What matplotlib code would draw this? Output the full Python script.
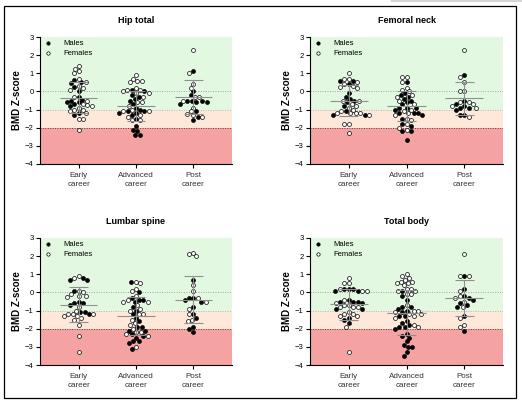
import matplotlib
matplotlib.use("Agg")
import matplotlib.pyplot as plt
from matplotlib.patches import Rectangle
from matplotlib.lines import Line2D
import numpy as np

plt.rcParams['font.family'] = ['Liberation Sans', 'DejaVu Sans']

groups = ["Early\ncareer", "Advanced\ncareer", "Post\ncareer"]
titles = ["Hip total", "Femoral neck", "Lumbar spine", "Total body"]

# BMD Z-scores: [early, advanced, post] per site
hip_males = [
    [0.62, 0.5, 0.44, 0.22, 0.0, -0.3, -0.45, -0.5, -0.6, -0.7, -0.8, -0.6, -1.2, -1.3],
    [0.1, 0.0, -0.2, -0.3, -0.4, -0.5, -0.7, -0.9, -1.1, -1.1, -1.2, -1.2, -1.3, -1.5,
     -1.9, -2.1, -2.2, -2.4, -2.4, -1.0],
    [1.1, 0.0, -0.2, -0.5, -0.5, -0.5, -0.6, -0.6, -0.7, -1.1, -1.4, -1.6],
]
hip_females = [
    [1.42, 1.25, 1.15, 1.0, 0.7, 0.5, 0.3, 0.2, 0.1, -0.3, -0.5, -0.7, -0.8, -0.9, -1.0,
     -1.0, -1.1, -1.2, -1.5, -1.5, -2.1, -0.75],
    [0.9, 0.7, 0.6, 0.6, 0.5, 0.2, 0.1, 0.0, 0.1, -0.1, -0.1, -0.3, -0.6, -0.6, -0.8,
     -1.0, -1.1, -1.1, -1.3, -1.4, -1.6, -1.6],
    [2.3, 1.0, 0.4, 0.2, -0.3, -0.3, -0.5, -0.9, -1.1, -1.25, -1.3, -1.4],
]
neck_males = [
    [0.6, 0.6, 0.4, -0.1, -0.3, -0.4, -0.5, -0.6, -0.8, -1.1, -1.3, -1.3],
    [0.5, -0.1, -0.2, -0.3, -0.4, -0.5, -0.6, -0.7, -0.9, -0.9, -0.9, -1.0, -1.2, -1.2,
     -1.2, -1.3, -1.5, -1.8, -1.9, -2.2, -2.2, -2.7],
    [0.9, -0.5, -0.7, -0.8, -0.9, -0.9, -1.0, -1.3, -1.3],
]
neck_females = [
    [1.0, 0.7, 0.7, 0.5, 0.4, 0.3, 0.25, 0.2, -0.5, -0.5, -0.7, -0.8, -0.9, -1.0, -1.1,
     -1.2, -1.2, -1.2, -1.2, -1.3, -1.8, -1.8, -2.3],
    [0.8, 0.8, 0.5, 0.2, 0.1, 0.0, -0.2, -0.3, -0.5, -0.7, -1.0, -1.1, -1.2, -1.3, -1.5,
     -1.6, -1.8, -2.0, -2.1],
    [2.3, 0.8, 0.5, 0.0, 0.0, -0.6, -0.6, -0.7, -0.8, -0.9, -1.4],
]
spine_males = [
    [0.7, 0.7, 0.8, 0.1, -0.5, -0.6, -0.6, -0.7, -1.1, -1.1, -1.2],
    [0.6, 0.0, -0.3, -0.4, -0.4, -0.5, -0.8, -1.0, -1.2, -1.4, -1.6, -1.9, -1.9, -2.1,
     -2.1, -2.3, -2.4, -2.5, -2.7, -2.7, -2.8, -3.1],
    [0.7, -0.3, -0.3, -0.4, -0.5, -0.8, -1.2, -1.4, -1.9, -2.0, -2.2],
]
spine_females = [
    [0.8, 0.9, 0.1, 0.0, -0.1, -0.2, -0.2, -0.25, -0.8, -1.0, -1.2, -1.2, -1.2, -1.3,
     -1.3, -1.4, -1.5, -1.8, -2.4, -3.3],
    [0.6, 0.5, 0.2, 0.1, -0.2, -0.4, -0.5, -0.5, -0.7, -0.9, -1.0, -1.2, -1.2, -1.5,
     -1.7, -1.8, -2.0, -2.2, -2.2, -2.3, -2.4, -3.0],
    [2.2, 2.1, 2.0, 0.4, 0.1, -0.3, -0.5, -0.9, -1.2, -1.5, -1.6],
]
body_males = [
    [0.2, 0.2, 0.2, 0.1, 0.1, -0.4, -0.5, -0.5, -0.5, -0.6, -0.9, -0.9, -1.4, -1.5, -1.7],
    [0.1, -0.2, -0.4, -0.8, -0.8, -0.9, -1.0, -1.1, -1.3, -1.3, -1.6, -1.7, -1.8, -1.9,
     -1.9, -2.0, -2.3, -2.4, -2.5, -2.7, -2.9, -3.0, -3.0, -3.3, -3.5],
    [0.9, 0.2, -0.2, -0.3, -0.4, -0.6, -0.7, -0.8, -1.3, -2.1],
]
body_females = [
    [0.8, 0.5, 0.5, 0.2, 0.1, 0.1, -0.4, -0.6, -0.7, -0.7, -0.8, -0.8, -0.8, -1.1, -1.2,
     -1.2, -1.3, -1.3, -1.9, -3.3],
    [1.0, 0.9, 0.8, 0.7, 0.6, 0.6, 0.5, 0.5, 0.4, 0.2, 0.2, 0.1, 0.1, -0.1, -0.1, -0.7,
     -1.0, -1.0, -1.1, -1.2, -1.2, -1.3, -1.4, -1.8, -1.9],
    [2.1, 0.9, 0.9, 0.1, -0.2, -0.3, -0.5, -0.8, -1.4, -1.8, -1.9],
]

# mean and SD bars as drawn
means = [
    [-0.35, -0.8, -0.3],
    [-0.5, -0.8, -0.38],
    [-0.68, -1.3, -0.4],
    [-0.65, -1.12, -0.32],
]
sds = [
    [0.85, 0.82, 0.95],
    [0.85, 0.82, 0.92],
    [0.96, 1.07, 1.3],
    [0.86, 1.23, 1.0],
]

males_all = [hip_males, neck_males, spine_males, body_males]
females_all = [hip_females, neck_females, spine_females, body_females]


def swarm(values, sx, sy, diam=4.6):
    # simple beeswarm in pixel space, returns x offsets in data units
    values = np.asarray(values, dtype=float)
    order = np.argsort(-values, kind="stable")
    placed = []
    offs = np.zeros(len(values))
    for i in order:
        y = values[i] * sy
        cands = [0.0]
        for px, py in placed:
            d = abs(py - y)
            if d < diam:
                w = np.sqrt(diam ** 2 - d ** 2)
                cands += [px - w, px + w]
        cands.sort(key=abs)
        for c in cands:
            if all((c - px) ** 2 + (y - py) ** 2 >= diam ** 2 - 1e-6 for px, py in placed):
                break
        placed.append((c, y))
        offs[i] = c / sx
    return offs


fig = plt.figure(figsize=(5.22, 4.05), dpi=100)
W, H = 522.0, 405.0
boxes = [(40, 37, 232, 164), (310, 37, 503, 164), (40, 238, 232, 365), (310, 238, 503, 365)]

bar_col = "#8f8f8f"
for k in range(4):
    x0, y0, x1, y1 = boxes[k]
    ax = fig.add_axes([x0 / W, 1 - y1 / H, (x1 - x0) / W, (y1 - y0) / H])
    ax.set_xlim(-0.67, 2.67)
    ax.set_ylim(-4, 3)

    ax.axhspan(-1, 3, color="#e3f8e1", zorder=0, lw=0)
    ax.axhspan(-2, -1, color="#fde8da", zorder=0, lw=0)
    ax.axhspan(-4, -2, color="#f4a2a2", zorder=0, lw=0)
    ax.axhline(0, color="#9aa89a", ls=(0, (1, 1.5)), lw=0.7, zorder=1)
    ax.axhline(-1, color="#b5b5b5", ls=(0, (1, 1.5)), lw=0.7, zorder=1)
    ax.axhline(-2, color="#6b3a3a", ls=(0, (1, 1.5)), lw=0.7, zorder=1)

    # pixel scales from the axes transform
    p0 = ax.transData.transform((0, 0))
    p1 = ax.transData.transform((1, 1))
    sx, sy = p1[0] - p0[0], p1[1] - p0[1]

    for g in range(3):
        m = males_all[k][g]
        f = females_all[k][g]
        # interleave sexes so ties do not sort males to the middle
        vals = []
        idx = []
        for j in range(max(len(m), len(f))):
            if j < len(f):
                vals.append(f[j]); idx.append(("f", j))
            if j < len(m):
                vals.append(m[j]); idx.append(("m", j))
        offs = swarm(vals, sx, sy)
        xm = np.zeros(len(m)); xf = np.zeros(len(f))
        for (sex, j), o in zip(idx, offs):
            if sex == "m":
                xm[j] = g + o
            else:
                xf[j] = g + o
        ax.scatter(xm, m, s=8, c="black", edgecolors="black", linewidths=0.5, zorder=2,
                   label="Males" if g == 0 else None)
        ax.scatter(xf, f, s=8, facecolors="white", edgecolors="black", linewidths=0.5,
                   zorder=2, label="Females" if g == 0 else None)

        mu, sd = means[k][g], sds[k][g]
        ax.hlines(mu, g - 0.33, g + 0.33, color=bar_col, lw=0.8, zorder=3)
        ax.hlines([mu - sd, mu + sd], g - 0.16, g + 0.16, color=bar_col, lw=0.8, zorder=3)
        ax.vlines(g, mu - sd, mu + sd, color=bar_col, lw=0.8, zorder=3)

    ax.set_xticks(range(3))
    ax.set_xticklabels(groups, fontsize=5.8, color="#333333", linespacing=1.3)
    ax.set_yticks(range(-4, 4))
    ax.tick_params(axis="y", labelsize=5.5, length=3, width=0.8, pad=1.5)
    ax.tick_params(axis="x", length=3, width=0.8, pad=3)
    for s in ["top", "right"]:
        ax.spines[s].set_visible(False)
    for s in ["left", "bottom"]:
        ax.spines[s].set_linewidth(0.8)
    ax.set_title(titles[k], fontsize=6.5, fontweight="bold", pad=10)
    ax.set_ylabel("BMD Z-score", fontsize=7, fontweight="bold", labelpad=2)
    ax.legend(loc="upper left", frameon=False, fontsize=5.5, handletextpad=1.3,
              borderaxespad=0.1, borderpad=0.3, labelspacing=0.25, markerscale=0.85,
              handlelength=1.3)

# outer frame and grey strip
fig.patches.append(Rectangle((4 / W, 1 - 398 / H), 512 / W, 392 / H, transform=fig.transFigure,
                             fill=False, edgecolor="black", lw=0.9))
fig.lines.append(Line2D([392 / W, 1.0], [1 - 1 / H, 1 - 1 / H], transform=fig.transFigure,
                        color="#d5d5d5", lw=1.5))

fig.savefig("out.png", dpi=100)
